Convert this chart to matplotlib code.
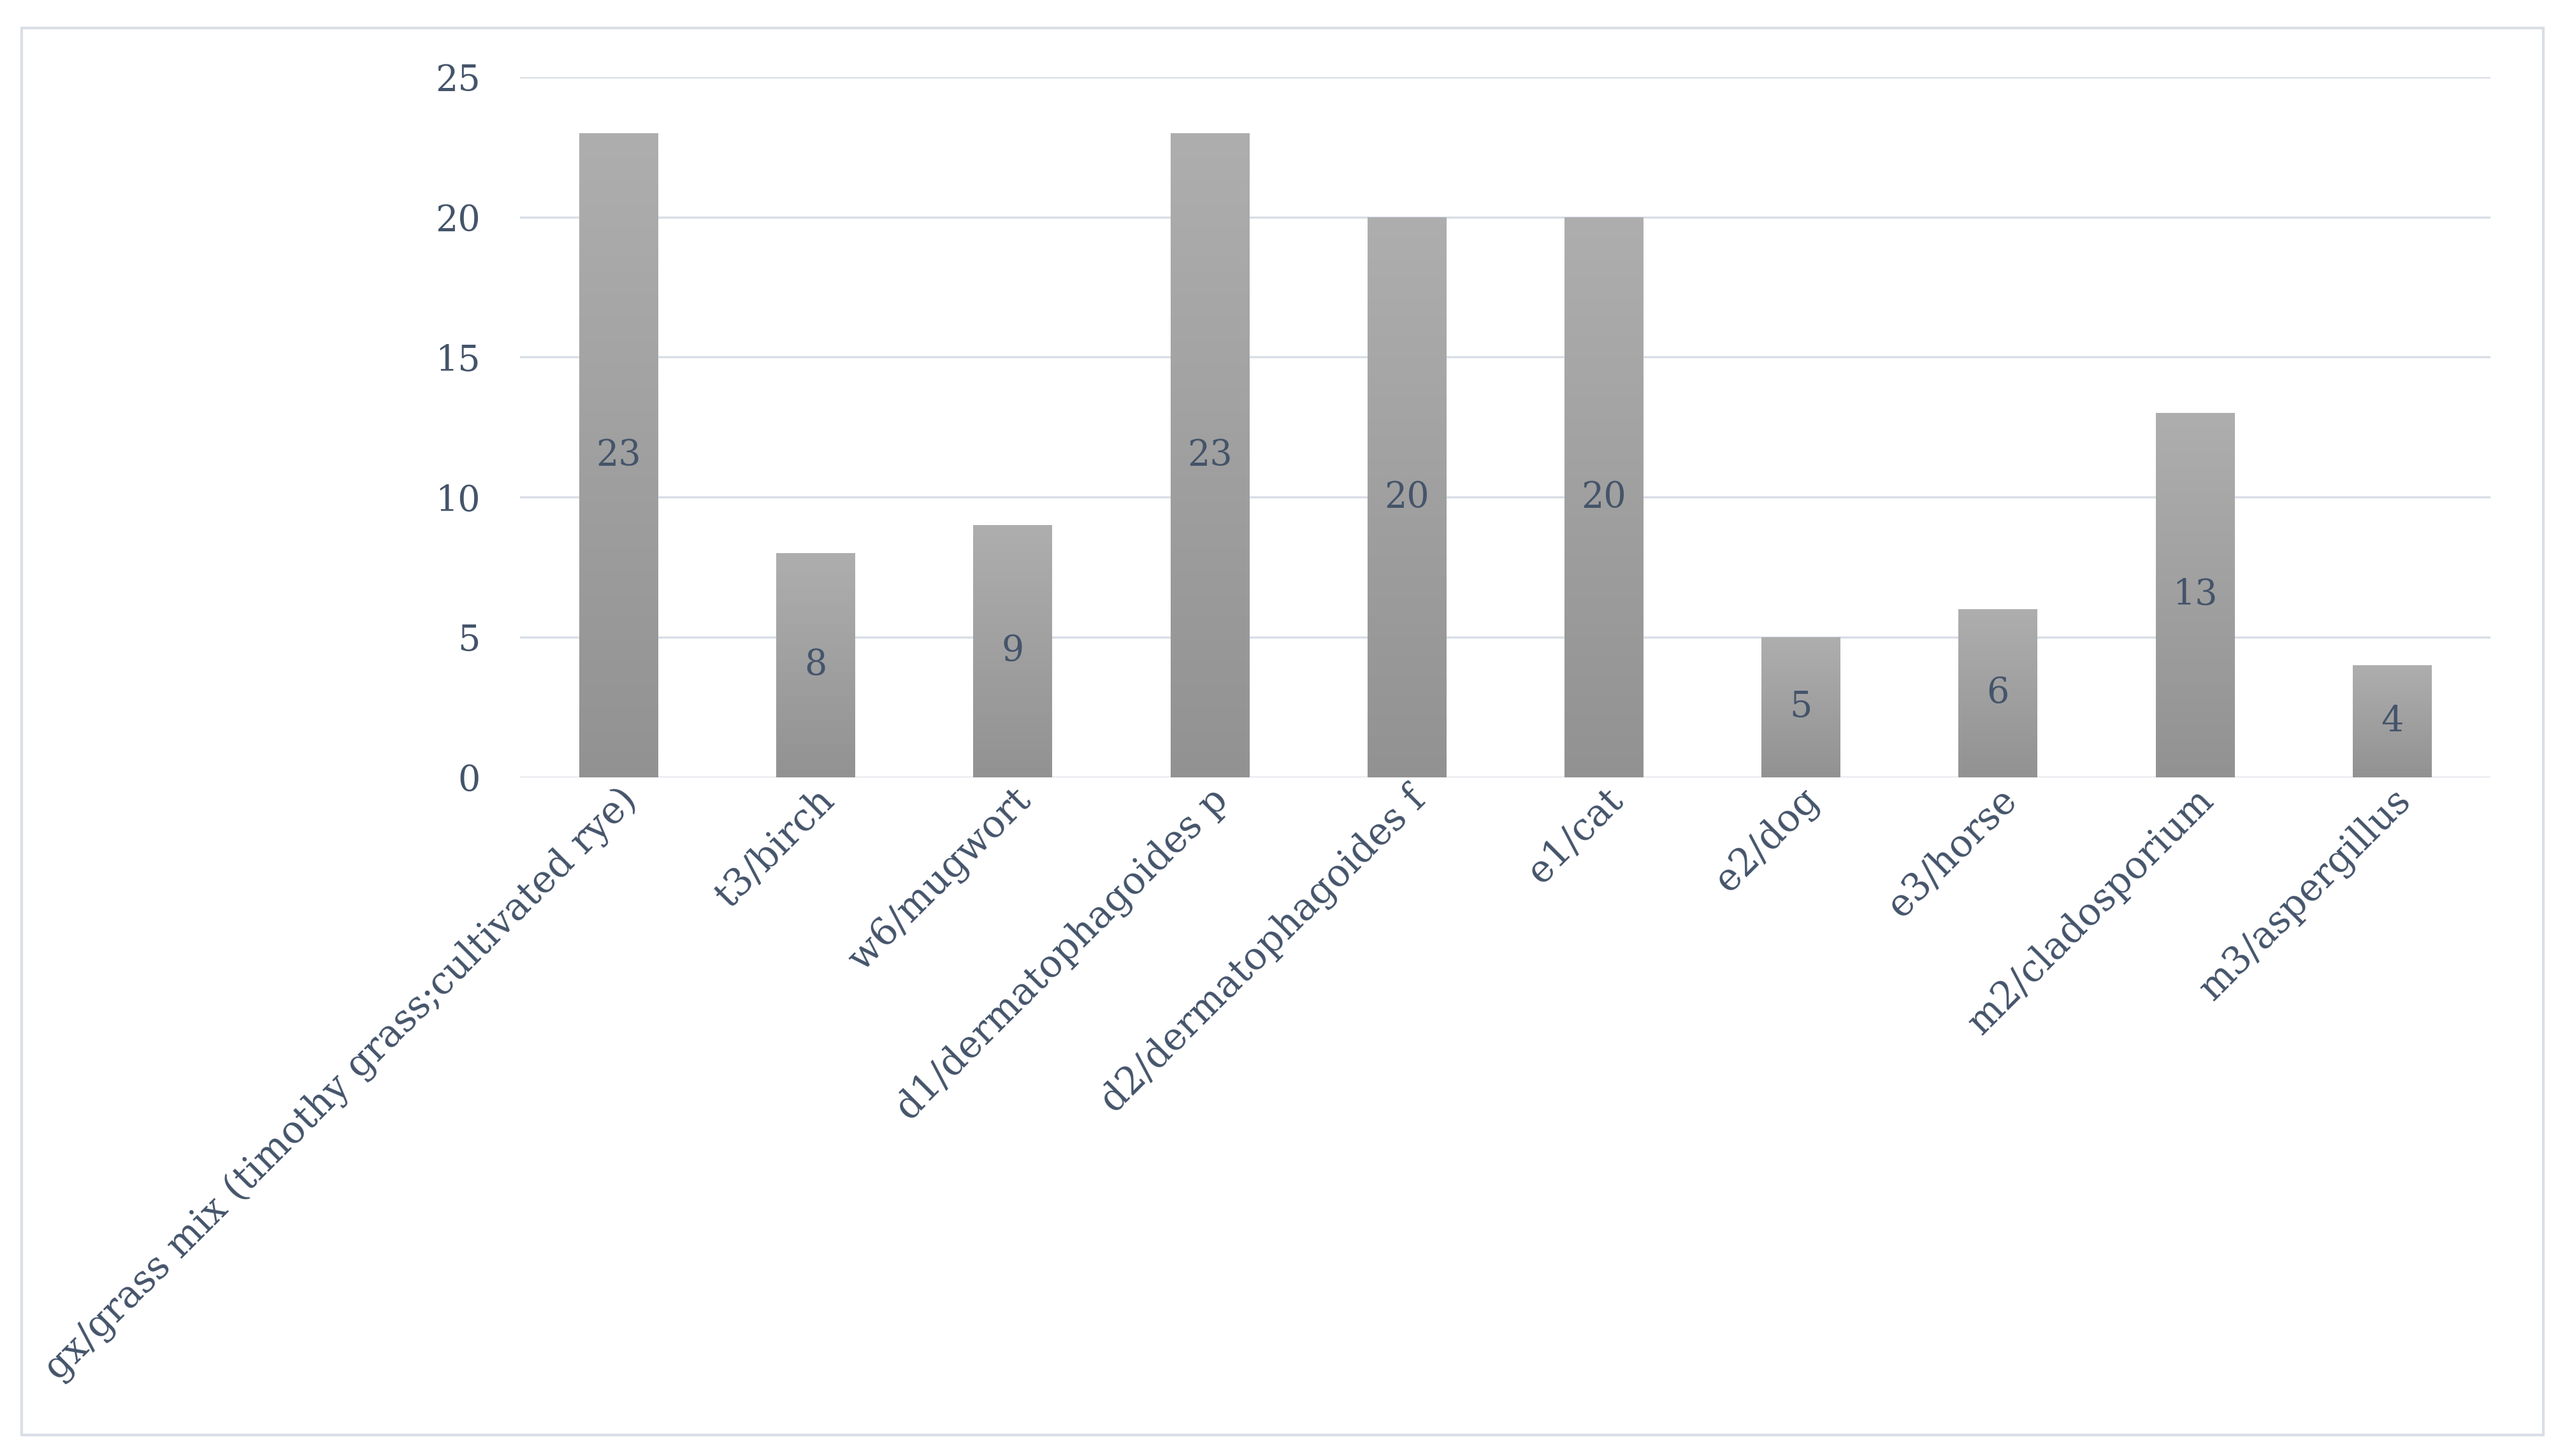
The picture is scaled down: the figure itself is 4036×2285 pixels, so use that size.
import matplotlib.pyplot as plt
import matplotlib.transforms as mtransforms
import numpy as np
from matplotlib.patches import Rectangle

# Data
allergens = ['gx/grass mix (timothy grass;cultivated rye)', 't3/birch', 'w6/mugwort',
             'd1/dermatophagoides p', 'd2/dermatophagoides f', 'e1/cat', 'e2/dog',
             'e3/horse', 'm2/cladosporium', 'm3/aspergillus']
counts = [23, 8, 9, 23, 20, 20, 5, 6, 13, 4]
yticks = [0, 5, 10, 15, 20, 25]

text_color = '#44546a'
grid_color = '#d9dee6'
plt.rcParams['font.family'] = ['DejaVu Serif']

fig = plt.figure(figsize=(40.37, 22.85), dpi=100)
ax = fig.add_axes([0.2022, 0.4662, 0.7659, 0.4809])

x = np.arange(len(allergens))
bars = ax.bar(x, counts, width=0.4, color='none', zorder=3)

# vertical grey gradient inside each bar
grad = np.linspace(0, 1, 256).reshape(-1, 1)
cmap = plt.matplotlib.colors.LinearSegmentedColormap.from_list('g', ['#929292', '#aeaeae'])
for b in bars:
    x0, w, h = b.get_x(), b.get_width(), b.get_height()
    im = ax.imshow(grad, extent=(x0, x0 + w, 0, h), origin='lower', cmap=cmap,
                   aspect='auto', zorder=3)
    im.set_clip_path(b)

ax.bar_label(bars, labels=[str(c) for c in counts], label_type='center',
             fontsize=40, color=text_color, zorder=4)

ax.set_xlim(-0.5, len(allergens) - 0.5)
ax.set_ylim(0, 25)
ax.set_yticks(yticks)
ax.set_xticks(x)
ax.set_xticklabels([])
# rotated category labels, nudged a little right/down like the original
lbl_trans = ax.get_xaxis_transform() + mtransforms.ScaledTranslation(0.2, -0.27, fig.dpi_scale_trans)
for xi, name in zip(x, allergens):
    ax.text(xi, 0, name, rotation=45, ha='right', va='center', rotation_mode='anchor',
            fontsize=42.5, color=text_color, transform=lbl_trans, clip_on=False)
ax.tick_params(axis='y', length=0, pad=45, labelsize=40, labelcolor=text_color)
ax.tick_params(axis='x', length=0)
ax.grid(axis='y', color=grid_color, linewidth=2.5, zorder=0)
for s in ax.spines.values():
    s.set_visible(False)

# outer chart border
fig.patches.append(Rectangle((0.0084, 0.0146), 0.9801, 0.9663, transform=fig.transFigure,
                             fill=False, edgecolor=grid_color, linewidth=3))

fig.savefig('out.png', dpi=100)
